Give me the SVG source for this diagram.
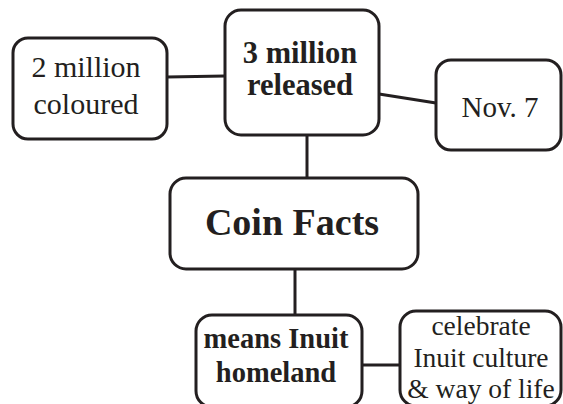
<svg xmlns="http://www.w3.org/2000/svg" width="563" height="404" viewBox="0 0 563 404">
<style>
.box{fill:#fff;stroke:#231f20;stroke-width:3}
.ln{stroke:#231f20;stroke-width:3;fill:none}
text{font-family:"Liberation Serif","Times New Roman",serif;fill:#231f20;text-anchor:middle}
.b{font-weight:bold}
</style>
<rect width="563" height="404" fill="#fff"/>
<g id="connectors">
<line class="ln" x1="167" y1="77" x2="225" y2="76"/>
<line class="ln" x1="379" y1="94" x2="436" y2="103"/>
<line class="ln" x1="307" y1="135" x2="307" y2="178"/>
<line class="ln" x1="295" y1="269" x2="295" y2="315"/>
<line class="ln" x1="362" y1="365" x2="400" y2="365"/>
</g>
<g id="n-2million">
<rect class="box" x="13" y="38" width="154" height="101" rx="15"/>
<text x="86" y="77" font-size="30">2 million</text>
<text x="86" y="114" font-size="30">coloured</text>
</g>
<g id="n-3million">
<rect class="box" x="225" y="10" width="154" height="125" rx="16"/>
<text class="b" x="300" y="63" font-size="30.5">3 million</text>
<text class="b" x="300" y="95" font-size="30.5">released</text>
</g>
<g id="n-nov7">
<rect class="box" x="436" y="60" width="125" height="90" rx="15"/>
<text x="500" y="117" font-size="29">Nov. 7</text>
</g>
<g id="n-coinfacts">
<rect class="box" x="170" y="178" width="248" height="91" rx="16"/>
<text class="b" x="292" y="235" font-size="38">Coin Facts</text>
</g>
<g id="n-means">
<rect class="box" x="196" y="315" width="166" height="92" rx="16"/>
<text class="b" x="276" y="348" font-size="28.5">means Inuit</text>
<text class="b" x="276" y="382" font-size="28.5">homeland</text>
</g>
<g id="n-celebrate">
<rect class="box" x="400" y="311" width="161" height="95" rx="16"/>
<text x="481" y="335" font-size="27.5">celebrate</text>
<text x="481" y="367" font-size="27.5">Inuit culture</text>
<text x="481" y="398" font-size="27.5">&amp; way of life</text>
</g>
</svg>
